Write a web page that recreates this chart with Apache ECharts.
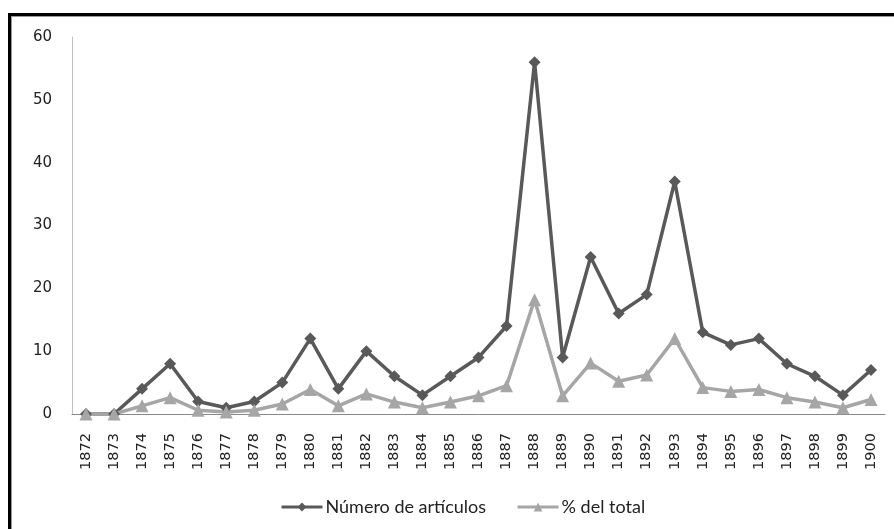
<!DOCTYPE html>
<html>
<head>
<meta charset="utf-8">
<script src="https://cdn.jsdelivr.net/npm/echarts@6/dist/echarts.min.js"></script>
<style>
  html, body { margin: 0; padding: 0; background: #fff; overflow: hidden; }
  #frame {
    position: absolute; left: 8px; top: 13px; width: 1000px; height: 1000px;
    border-left: 3px solid #000; border-top: 3px solid #000;
    box-shadow: inset 1px 1px 0 #999;
  }
  #main { position: absolute; left: 0; top: 0; width: 894px; height: 529px; }
</style>
</head>
<body>
<div id="frame"></div>
<div id="main"></div>
<script>
const years = ['1872', '1873', '1874', '1875', '1876', '1877', '1878', '1879', '1880', '1881',
  '1882', '1883', '1884', '1885', '1886', '1887', '1888', '1889', '1890', '1891',
  '1892', '1893', '1894', '1895', '1896', '1897', '1898', '1899', '1900']
const articulos = [0, 0, 4, 8, 2, 1, 2, 5, 12, 4, 10, 6, 3, 6, 9, 14, 56, 9, 25, 16, 19, 37, 13, 11, 12, 8, 6, 3, 7]
const porcentaje = [0, 0, 1.3, 2.6, 0.6, 0.3, 0.6, 1.6, 3.9, 1.3, 3.2, 1.9, 1.0, 1.9, 2.9, 4.5, 18.2, 2.9, 8.1, 5.2,
  6.2, 12.0, 4.2, 3.6, 3.9, 2.6, 1.9, 1.0, 2.3]
const yTicks = [0, 10, 20, 30, 40, 50, 60]

const dark = '#595959'
const light = '#a6a6a6'

const myChart = echarts.init(document.getElementById('main'))
const option = {
  backgroundColor: 'transparent',
  animation: false,
  grid: { left: 72, right: 9, top: 37, bottom: 115, containLabel: false },
  legend: {
    bottom: 8,
    left: 275,
    itemWidth: 41,
    itemHeight: 11,
    itemGap: 30,
    lineStyle: { width: 3 },
    textStyle: { fontFamily: 'Lato', fontSize: 18, color: '#222', padding: [0, 0, 0, -2] },
    data: ['Número de artículos', '% del total']
  },
  xAxis: {
    type: 'category',
    boundaryGap: true,
    data: years,
    axisLine: { lineStyle: { color: '#888', width: 1 } },
    axisTick: { show: false },
    axisLabel: {
      rotate: 90,
      margin: 19,
      fontFamily: 'DejaVu Sans',
      fontSize: 14.5,
      color: '#222'
    }
  },
  yAxis: {
    type: 'value',
    min: yTicks[0],
    max: yTicks[yTicks.length - 1],
    interval: 10,
    axisLine: { show: true, lineStyle: { color: '#c0c0c0', width: 1 } },
    axisTick: { show: false },
    splitLine: { show: false },
    axisLabel: {
      margin: 20,
      fontFamily: 'DejaVu Sans',
      fontSize: 15,
      color: '#222'
    }
  },
  series: [
    {
      name: 'Número de artículos',
      type: 'line',
      data: articulos,
      symbol: 'diamond',
      symbolSize: 12,
      lineStyle: { color: dark, width: 3.5 },
      itemStyle: { color: dark }
    },
    {
      name: '% del total',
      type: 'line',
      data: porcentaje,
      symbol: 'triangle',
      symbolSize: 13,
      lineStyle: { color: light, width: 3.5 },
      itemStyle: { color: light }
    }
  ]
}
myChart.setOption(option)
</script>
</body>
</html>
